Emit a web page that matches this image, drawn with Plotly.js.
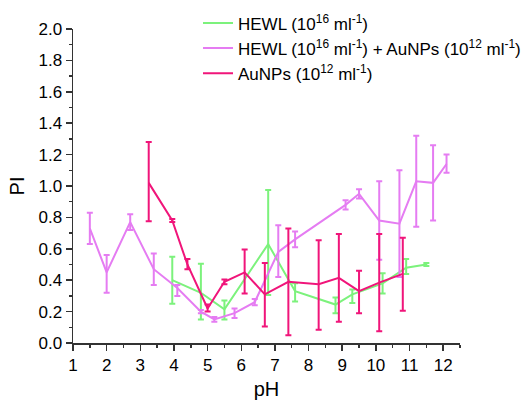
<!DOCTYPE html>
<html>
<head>
<meta charset="utf-8">
<script src="https://cdn.plot.ly/plotly-3.0.1.min.js"></script>
<style>html,body{margin:0;padding:0;background:#fff;}#chart{width:532px;height:400px;}</style>
</head>
<body>
<div id="chart"></div>
<script>
// HEWL (10^16 ml^-1)
var hewlX     = [3.95, 4.8, 5.5, 6.8, 7.6, 8.8, 9.3, 10.2, 10.9, 11.5];
var hewlY     = [0.40, 0.32, 0.215, 0.63, 0.33, 0.245, 0.31, 0.38, 0.48, 0.50];
var hewlErrP  = [0.15, 0.185, 0.055, 0.345, 0.05, 0.045, 0.03, 0.065, 0.055, 0.01];
var hewlErrM  = [0.15, 0.17, 0.065, 0.325, 0.065, 0.055, 0.055, 0.065, 0.04, 0.01];

// HEWL (10^16 ml^-1) + AuNPs (10^12 ml^-1)
var mixX      = [1.5, 2.0, 2.7, 3.4, 4.1, 4.8, 5.2, 5.8, 6.4, 7.1, 7.6, 9.1, 9.5, 10.1, 10.7, 11.2, 11.7, 12.1];
var mixY      = [0.73, 0.45, 0.77, 0.47, 0.35, 0.20, 0.15, 0.19, 0.26, 0.58, 0.66, 0.88, 0.95, 0.78, 0.76, 1.03, 1.02, 1.14];
var mixErrP   = [0.10, 0.11, 0.05, 0.10, 0.02, 0.01, 0.015, 0.03, 0.02, 0.17, 0.05, 0.03, 0.03, 0.25, 0.34, 0.29, 0.24, 0.06];
var mixErrM   = [0.10, 0.13, 0.05, 0.10, 0.05, 0.01, 0.015, 0.03, 0.02, 0.16, 0.05, 0.03, 0.03, 0.25, 0.34, 0.29, 0.24, 0.055];

// AuNPs (10^12 ml^-1)
var auX       = [3.25, 3.95, 4.4, 5.0, 5.5, 6.1, 6.7, 7.4, 8.3, 8.9, 9.5, 10.1, 10.8];
var auY       = [1.02, 0.78, 0.50, 0.22, 0.39, 0.45, 0.31, 0.39, 0.375, 0.415, 0.33, 0.385, 0.44];
var auErrP    = [0.26, 0.01, 0.035, 0.025, 0.015, 0.145, 0.20, 0.34, 0.28, 0.28, 0.13, 0.31, 0.23];
var auErrM    = [0.245, 0.01, 0.03, 0.02, 0.015, 0.135, 0.205, 0.34, 0.29, 0.28, 0.14, 0.31, 0.235];

var names = [
  'HEWL (10<sup>16</sup> ml<sup>-1</sup>)',
  'HEWL (10<sup>16</sup> ml<sup>-1</sup>) + AuNPs (10<sup>12</sup> ml<sup>-1</sup>)',
  'AuNPs (10<sup>12</sup> ml<sup>-1</sup>)'
];
var colors = ['#7CF27C', '#E57CF2', '#F0157A'];

function mk(x, y, ep, em, name, color) {
  return {
    type: 'scatter', mode: 'lines', x: x, y: y, name: name,
    line: {color: color, width: 2},
    error_y: {type: 'data', symmetric: false, array: ep, arrayminus: em,
              color: color, thickness: 2, width: 3}
  };
}

var data = [
  mk(hewlX, hewlY, hewlErrP, hewlErrM, names[0], colors[0]),
  mk(mixX, mixY, mixErrP, mixErrM, names[1], colors[1]),
  mk(auX, auY, auErrP, auErrM, names[2], colors[2])
];

var axisFont = {family: 'Liberation Sans, Arial, sans-serif', size: 17, color: '#000'};

var layout = {
  width: 532, height: 400,
  margin: {l: 73, r: 72, t: 29, b: 57, autoexpand: false},
  paper_bgcolor: '#fff', plot_bgcolor: '#fff',
  font: axisFont,
  showlegend: true,
  legend: {x: 0.323, y: 1.075, xanchor: 'left', yanchor: 'top',
           bgcolor: 'rgba(0,0,0,0)', borderwidth: 0,
           font: {family: 'Liberation Sans, Arial, sans-serif', size: 17, color: '#000'},
           tracegroupgap: 0},
  xaxis: {
    range: [1, 12.5], tickmode: 'linear', tick0: 1, dtick: 1,
    showgrid: false, zeroline: false, showline: true, linecolor: '#333', linewidth: 1.5,
    ticks: 'outside', ticklen: 6, tickwidth: 1.5, tickcolor: '#333',
    minor: {dtick: 0.5, ticks: 'outside', ticklen: 3, tickwidth: 1.5, tickcolor: '#333', showgrid: false},
    tickfont: axisFont,
    title: {text: 'pH', font: {family: 'Liberation Sans, Arial, sans-serif', size: 20, color: '#000'}, standoff: 10}
  },
  yaxis: {
    range: [0, 2.0], tickmode: 'linear', tick0: 0, dtick: 0.2, tickformat: '.1f',
    showgrid: false, zeroline: false, showline: true, linecolor: '#333', linewidth: 1.5,
    ticks: 'outside', ticklen: 6, tickwidth: 1.5, tickcolor: '#333',
    minor: {dtick: 0.1, ticks: 'outside', ticklen: 3, tickwidth: 1.5, tickcolor: '#333', showgrid: false},
    tickfont: axisFont,
    title: {text: 'PI', font: {family: 'Liberation Sans, Arial, sans-serif', size: 20, color: '#000'}, standoff: 8}
  }
};

Plotly.newPlot('chart', data, layout, {displayModeBar: false, staticPlot: true});
</script>
</body>
</html>
